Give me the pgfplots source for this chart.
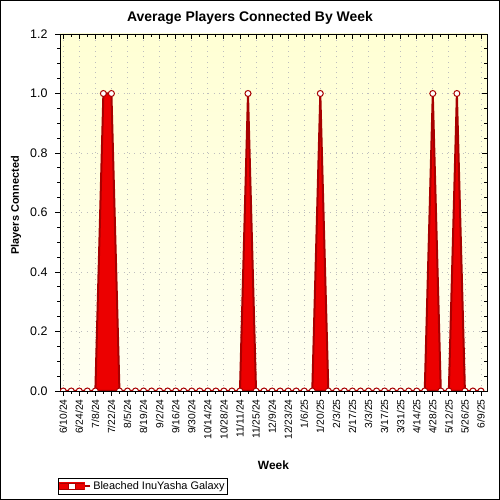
\documentclass[border=0pt]{standalone}
\usepackage{fontspec}
\setmainfont{Liberation Sans}
\usepackage{pgfplots}
\pgfplotsset{compat=1.18}
\definecolor{darkred}{RGB}{168,0,0}
\definecolor{brightred}{RGB}{236,0,0}
\definecolor{bgtop}{RGB}{255,255,212}
\definecolor{bgbot}{RGB}{255,255,242}
\definecolor{gridgray}{RGB}{190,190,190}

\begin{document}
\begin{tikzpicture}
\path[draw=black, line width=1bp] (0.5bp,0.5bp) rectangle (499.5bp,499.5bp);
\begin{axis}[
  at={(60bp,109bp)}, anchor=south west,
  width=427bp, height=357bp, scale only axis,
  xmin=-0.4, xmax=52.75, ymin=0, ymax=1.2,
  axis background/.style={top color=bgtop, bottom color=bgbot},
  axis line style={black, line width=0.8bp},
  xtick={0,2,...,52},
  xticklabels={6/10/24,6/24/24,7/8/24,7/22/24,8/5/24,8/19/24,9/2/24,9/16/24,9/30/24,10/14/24,10/28/24,11/11/24,11/25/24,12/9/24,12/23/24,1/6/25,1/20/25,2/3/25,2/17/25,3/3/25,3/17/25,3/31/25,4/14/25,4/28/25,5/12/25,5/26/25,6/9/25},
  minor x tick num=1,
  ytick={0,0.2,...,1.2},
  minor y tick num=3,
  yticklabel style={/pgf/number format/fixed, /pgf/number format/fixed zerofill, /pgf/number format/precision=1, font=\fontsize{12.5}{14}\selectfont, xshift=-4bp},
  /pgf/number format/assume math mode=true,
  xticklabel style={rotate=90, anchor=east, font=\fontsize{10.3}{11}\selectfont},
  xtick pos=left, ytick pos=left,
  tick align=outside,
  major tick length=5bp, minor tick length=3bp,
  tick style={black, line width=0.8bp},
  grid=major,
  grid style={gridgray, line width=0.8bp, dash pattern=on 0.8bp off 4.5bp},
  title={Average Players Connected By Week},
  title style={at={(axis description cs:0.445,1)}, anchor=base, yshift=7bp, font=\bfseries\fontsize{14}{16}\selectfont},
  xlabel={Week},
  xlabel style={at={(axis description cs:0.5,0)}, anchor=base, yshift=-78bp, font=\bfseries\fontsize{12}{14}\selectfont},
  ylabel={Players Connected},
  ylabel style={at={(axis description cs:-0.103,0.52)}, anchor=center, rotate=0, font=\bfseries\fontsize{11}{13}\selectfont},
  clip marker paths=true,
  legend style={at={(axis description cs:-0.005,-0.244)}, anchor=north west, draw=black, line width=0.8bp, font=\fontsize{11}{12}\selectfont, inner sep=1bp, row sep=0bp},
  legend cell align=left,
  legend image code/.code={
    \path (0bp,0bp) -- (30bp,0bp);
    \fill[brightred] (0bp,-3bp) rectangle (24bp,3bp);
    \draw[darkred, line width=1bp] (0bp,-3bp) -- (24bp,-3bp);
    \draw[darkred, line width=1bp] (0bp,3bp) -- (24bp,3bp);
    \draw[darkred, fill=white, line width=1bp] (8.5bp,-3bp) rectangle (15.5bp,3bp);
  },
]
\addplot[draw=darkred, line width=2bp, fill=brightred,
  mark=*, mark size=3bp, mark options={fill=white, draw=darkred, line width=1bp, solid}]
  table[row sep=\\] {
x y\\
0 0\\ 1 0\\ 2 0\\ 3 0\\ 4 0\\ 5 1\\ 6 1\\ 7 0\\ 8 0\\ 9 0\\
10 0\\ 11 0\\ 12 0\\ 13 0\\ 14 0\\ 15 0\\ 16 0\\ 17 0\\ 18 0\\ 19 0\\
20 0\\ 21 0\\ 22 0\\ 23 1\\ 24 0\\ 25 0\\ 26 0\\ 27 0\\ 28 0\\ 29 0\\
30 0\\ 31 0\\ 32 1\\ 33 0\\ 34 0\\ 35 0\\ 36 0\\ 37 0\\ 38 0\\ 39 0\\
40 0\\ 41 0\\ 42 0\\ 43 0\\ 44 0\\ 45 0\\ 46 1\\ 47 0\\ 48 0\\ 49 1\\
50 0\\ 51 0\\ 52 0\\
} \closedcycle;
\addlegendentry{Bleached InuYasha Galaxy}
\end{axis}
\begin{axis}[
  at={(60bp,109bp)}, anchor=south west,
  width=427bp, height=357bp, scale only axis,
  xmin=-0.4, xmax=52.75, ymin=0, ymax=1.2,
  axis line style={draw=none},
  xtick={0,2,...,52}, minor x tick num=1,
  ytick={0,0.2,...,1.2}, minor y tick num=3,
  xticklabels={}, yticklabels={},
  xtick pos=right, ytick pos=right,
  tick align=inside,
  major tick length=5bp, minor tick length=3bp,
  tick style={black, line width=0.8bp},
]
\end{axis}
\end{tikzpicture}
\end{document}
